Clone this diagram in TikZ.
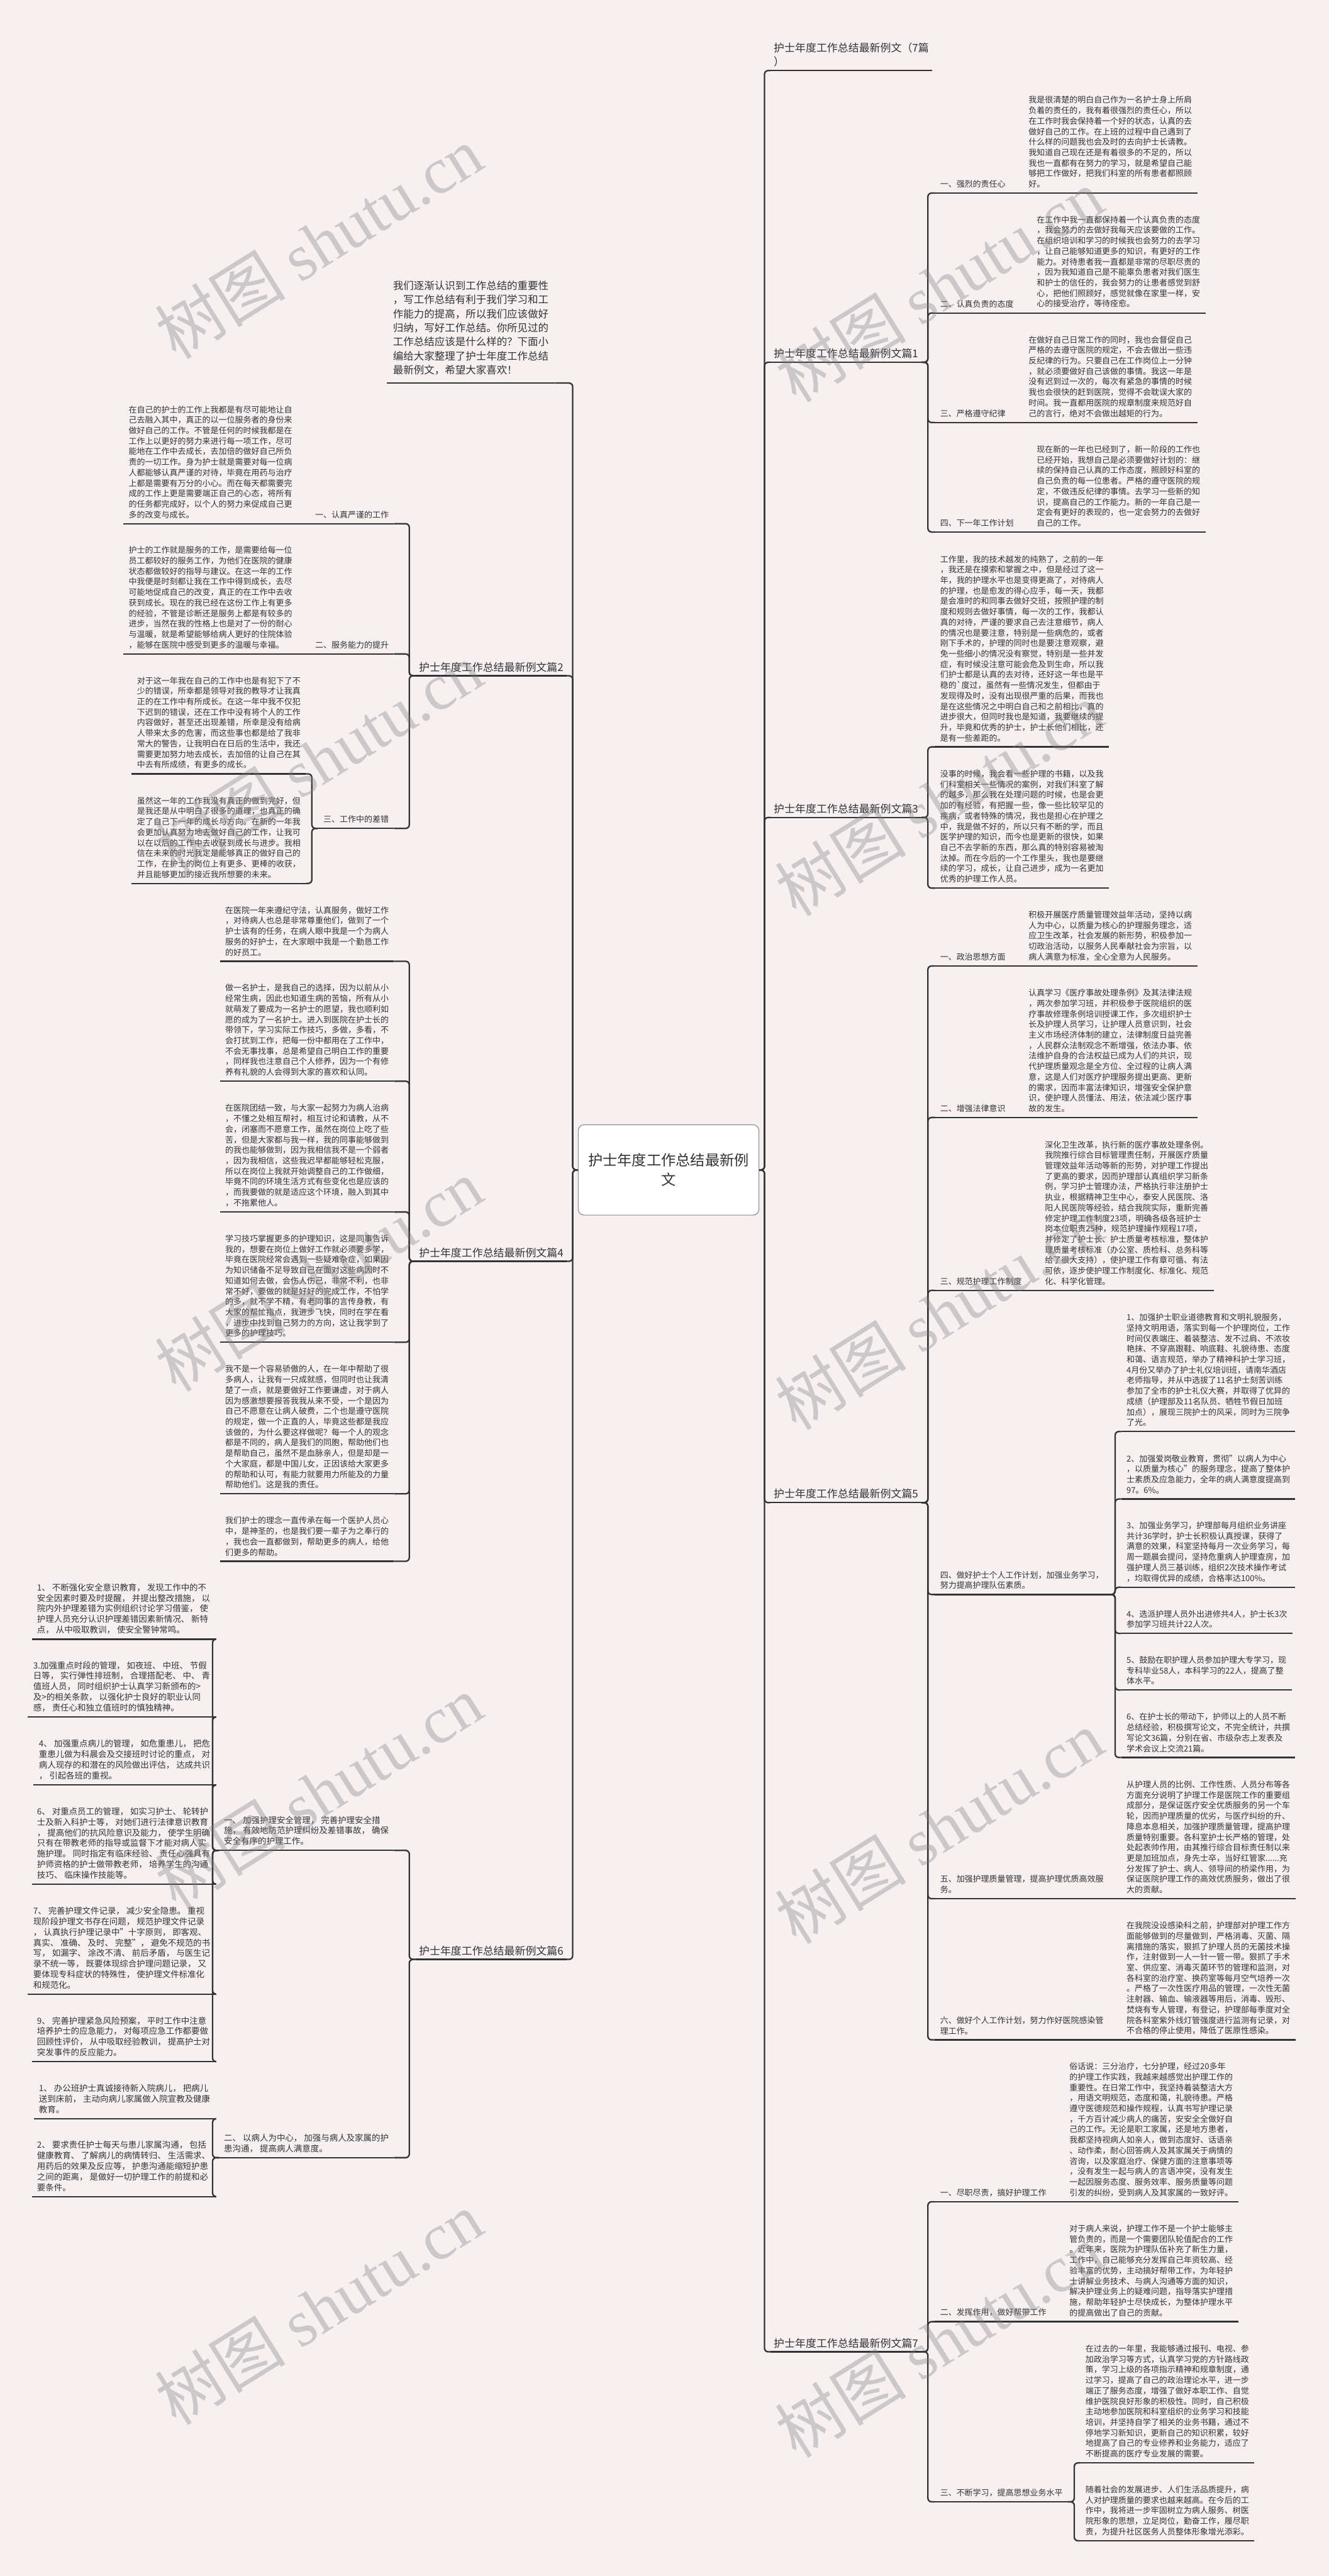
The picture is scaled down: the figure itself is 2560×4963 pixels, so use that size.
\documentclass[tikz,border=0pt]{standalone}
\usepackage{fontspec}
\setmainfont{Noto Sans CJK SC}
\newfontfamily\cjkfont{Noto Sans CJK SC}
\newfontfamily\wmfont{Liberation Serif}
\usetikzlibrary{positioning}
\definecolor{bgc}{RGB}{246,240,241}
\definecolor{ink}{RGB}{51,51,51}
\tikzset{
  uline/.style={append after command={(\tikzlastnode.south west) edge[draw=ink,line width=2pt] (\tikzlastnode.south east)}},
  txt/.style={uline, align=left, inner xsep=7pt, inner ysep=7pt, text=ink, font=\fontsize{11.2pt}{14.4pt}\selectfont},
  txtsm/.style={txt, font=\fontsize{11.6pt}{14.5pt}\selectfont},
  mainlab/.style={uline, align=left, inner xsep=4.5pt, inner ysep=5pt, text=ink, font=\fontsize{14.6pt}{19.2pt}\selectfont},
  introbox/.style={mainlab, inner xsep=8.5pt, inner ysep=11pt, font=\fontsize{14.2pt}{19.2pt}\selectfont},
  rootbox/.style={draw=black!45, line width=1pt, rounded corners=8pt, fill=white, align=center, text=ink,
    minimum width=8.7cm, minimum height=4.35cm, font=\fontsize{20pt}{27pt}\selectfont},
  link/.style={draw=ink, line width=2pt, rounded corners=5pt},
  wmark/.style={text=black!50, text opacity=0.35, rotate=32, anchor=south west, inner sep=0pt, font=\fontsize{90pt}{90pt}\selectfont},
}
\begin{document}
\begin{tikzpicture}[x=0.025cm,y=-0.025cm]
  \fill[bgc] (0,0) rectangle (2560,4963);
  \useasboundingbox (0,0) rectangle (2560,4963);

  %%%%% ROOT %%%%%
  \node[rootbox] (root) at (1288,2254) {护士年度工作总结最新例\\文};

  %%%%% MAIN BRANCHES %%%%%
  \node[mainlab, anchor=south west] (m0) at (1484,136) {护士年度工作总结最新例文（7篇\\）};
  \node[mainlab, anchor=south west] (m1) at (1484,698) {护士年度工作总结最新例文篇1};
  \node[mainlab, anchor=south west] (m3) at (1484,1575) {护士年度工作总结最新例文篇3};
  \node[mainlab, anchor=south west] (m5) at (1484,2895) {护士年度工作总结最新例文篇5};
  \node[mainlab, anchor=south west] (m7) at (1484,4531) {护士年度工作总结最新例文篇7};
  \node[introbox, anchor=south west] (m8) at (745,738) {我们逐渐认识到工作总结的重要性\\，写工作总结有利于我们学习和工\\作能力的提高，所以我们应该做好\\归纳，写好工作总结。你所见过的\\工作总结应该是什么样的？下面小\\编给大家整理了护士年度工作总结\\最新例文，希望大家喜欢！};
  \node[mainlab, anchor=south east] (m2) at (1092,1302) {护士年度工作总结最新例文篇2};
  \node[mainlab, anchor=south east] (m4) at (1092,2430) {护士年度工作总结最新例文篇4};
  \node[mainlab, anchor=south east] (m6) at (1092,3775) {护士年度工作总结最新例文篇6};

  \draw[link] (root.east) -- ++(10,0) |- (m0.south west);
  \draw[link] (root.east) -- ++(10,0) |- (m1.south west);
  \draw[link] (root.east) -- ++(10,0) |- (m3.south west);
  \draw[link] (root.east) -- ++(10,0) |- (m5.south west);
  \draw[link] (root.east) -- ++(10,0) |- (m7.south west);
  \draw[link] (root.west) -- ++(-10,0) |- (m8.south east);
  \draw[link] (root.west) -- ++(-10,0) |- (m2.south east);
  \draw[link] (root.west) -- ++(-10,0) |- (m4.south east);
  \draw[link] (root.west) -- ++(-10,0) |- (m6.south east);

  %%%%% 篇1 %%%%%
  \node[txt, anchor=south west] (l11) at (1801,372) {一、强烈的责任心};
  \node[txt, right=6mm of l11.south east, anchor=south west] (t11) {我是很清楚的明白自己作为一名护士身上所肩\\负着的责任的，我有着很强烈的责任心，所以\\在工作时我会保持着一个好的状态，认真的去\\做好自己的工作。在上班的过程中自己遇到了\\什么样的问题我也会及时的去向护士长请教。\\我知道自己现在还是有着很多的不足的，所以\\我也一直都有在努力的学习，就是希望自己能\\够把工作做好，把我们科室的所有患者都照顾\\好。};
  \node[txt, anchor=south west] (l12) at (1801,603) {二、认真负责的态度};
  \node[txt, right=6mm of l12.south east, anchor=south west] (t12) {在工作中我一直都保持着一个认真负责的态度\\，我会努力的去做好我每天应该要做的工作。\\在组织培训和学习的时候我也会努力的去学习\\，让自己能够知道更多的知识，有更好的工作\\能力。对待患者我一直都是非常的尽职尽责的\\，因为我知道自己是不能辜负患者对我们医生\\和护士的信任的，我会努力的让患者感觉到舒\\心，把他们照顾好，感觉就像在家里一样，安\\心的接受治疗，等待痊愈。};
  \node[txt, anchor=south west] (l13) at (1801,814) {三、严格遵守纪律};
  \node[txt, right=6mm of l13.south east, anchor=south west] (t13) {在做好自己日常工作的同时，我也会督促自己\\严格的去遵守医院的规定，不会去做出一些违\\反纪律的行为。只要自己在工作岗位上一分钟\\，就必须要做好自己该做的事情。我这一年是\\没有迟到过一次的，每次有紧急的事情的时候\\我也会很快的赶到医院，觉得不会耽误大家的\\时间。我一直都用医院的规章制度来规范好自\\己的言行，绝对不会做出越矩的行为。};
  \node[txt, anchor=south west] (l14) at (1801,1025) {四、下一年工作计划};
  \node[txt, right=6mm of l14.south east, anchor=south west] (t14) {现在新的一年也已经到了，新一阶段的工作也\\已经开始，我想自己是必须要做好计划的：继\\续的保持自己认真的工作态度，照顾好科室的\\自己负责的每一位患者。严格的遵守医院的规\\定，不做违反纪律的事情。去学习一些新的知\\识，提高自己的工作能力。新的一年自己是一\\定会有更好的表现的，也一定会努力的去做好\\自己的工作。};
  \draw[link] (m1.south east) -- ++(12,0) |- (l11.south west);
  \draw[link] (m1.south east) -- ++(12,0) |- (l12.south west);
  \draw[link] (m1.south east) -- ++(12,0) |- (l13.south west);
  \draw[link] (m1.south east) -- ++(12,0) |- (l14.south west);
  \draw[link] (l11.south east) -- (t11.south west);
  \draw[link] (l12.south east) -- (t12.south west);
  \draw[link] (l13.south east) -- (t13.south west);
  \draw[link] (l14.south east) -- (t14.south west);

  %%%%% 篇3 %%%%%
  \node[txt, anchor=south west] (t31) at (1801,1439) {工作里，我的技术越发的纯熟了，之前的一年\\，我还是在摸索和掌握之中，但是经过了这一\\年，我的护理水平也是变得更高了，对待病人\\的护理，也是愈发的得心应手，每一天，我都\\是会准时的和同事去做好交班，按照护理的制\\度和规则去做好事情，每一次的工作，我都认\\真的对待，严谨的要求自己去注意细节，病人\\的情况也是要注意，特别是一些病危的，或者\\刚下手术的，护理的同时也是要注意观察，避\\免一些细小的情况没有察觉，特别是一些并发\\症，有时候没注意可能会危及到生命，所以我\\们护士都是认真的去对待，还好这一年也是平\\稳的\textasciigrave 度过，虽然有一些情况发生，但都由于\\发现得及时，没有出现很严重的后果，而我也\\是在这些情况之中明白自己和之前相比，真的\\进步很大，但同时我也是知道，我要继续的提\\升，毕竟和优秀的护士，护士长他们相比，还\\是有一些差距的。};
  \node[txt, anchor=south west] (t32) at (1801,1711) {没事的时候，我会看一些护理的书籍，以及我\\们科室相关一些情况的案例，对我们科室了解\\的越多，那么我在处理问题的时候，也是会更\\加的有经验，有把握一些，像一些比较罕见的\\疾病，或者特殊的情况，我也是担心在护理之\\中，我是做不好的，所以只有不断的学，而且\\医学护理的知识，而今也是更新的很快，如果\\自己不去学新的东西，那么真的特别容易被淘\\汰掉。而在今后的一个工作里头，我也是要继\\续的学习，成长，让自己进步，成为一名更加\\优秀的护理工作人员。};
  \draw[link] (m3.south east) -- ++(12,0) |- (t31.south west);
  \draw[link] (m3.south east) -- ++(12,0) |- (t32.south west);

  %%%%% 篇5 %%%%%
  \node[txt, anchor=south west] (l51) at (1801,1861) {一、政治思想方面};
  \node[txt, right=6mm of l51.south east, anchor=south west] (t51) {积极开展医疗质量管理效益年活动，坚持以病\\人为中心，以质量为核心的护理服务理念，适\\应卫生改革，社会发展的新形势，积极参加一\\切政治活动，以服务人民奉献社会为宗旨，以\\病人满意为标准，全心全意为人民服务。};
  \node[txt, anchor=south west] (l52) at (1801,2153) {二、增强法律意识};
  \node[txt, right=6mm of l52.south east, anchor=south west] (t52) {认真学习《医疗事故处理条例》及其法律法规\\，两次参加学习班，并积极参于医院组织的医\\疗事故修理条例培训授课工作，多次组织护士\\长及护理人员学习，让护理人员意识到，社会\\主义市场经济体制的建立，法律制度日益完善\\，人民群众法制观念不断增强，依法办事、依\\法维护自身的合法权益已成为人们的共识，现\\代护理质量观念是全方位、全过程的让病人满\\意，这是人们对医疗护理服务提出更高、更新\\的需求，因而丰富法律知识，增强安全保护意\\识，使护理人员懂法、用法，依法减少医疗事\\故的发生。};
  \node[txt, anchor=south west] (l53) at (1801,2486) {三、规范护理工作制度};
  \node[txt, right=6mm of l53.south east, anchor=south west] (t53) {深化卫生改革，执行新的医疗事故处理条例。\\我院推行综合目标管理责任制，开展医疗质量\\管理效益年活动等新的形势，对护理工作提出\\了更高的要求，因而护理部认真组织学习新条\\例，学习护士管理办法，严格执行非注册护士\\执业，根据精神卫生中心，泰安人民医院、洛\\阳人民医院等经验，结合我院实际，重新完善\\修定护理工作制度23项，明确各级各班护士\\岗本位职责25种，规范护理操作规程17项，\\并修定了护士长、护士质量考核标准，整体护\\理质量考核标准（办公室、质检科、总务科等\\给了很大支持），使护理工作有章可循、有法\\可依，逐步使护理工作制度化、标准化、规范\\化、科学化管理。};
  \node[txt, anchor=south west] (l54) at (1801,3072) {四、做好护士个人工作计划，加强业务学习，\\努力提高护理队伍素质。};
  \node[txt, anchor=south west] (t541) at (2160,2758) {1、加强护士职业道德教育和文明礼貌服务，\\坚持文明用语，落实到每一个护理岗位，工作\\时间仪表端庄、着装整洁、发不过肩、不浓妆\\艳抹、不穿高跟鞋、响底鞋、礼貌待患、态度\\和蔼、语言规范，举办了精神科护士学习班，\\4月份又举办了护士礼仪培训班，请南华酒店\\老师指导，并从中选拔了11名护士刻苦训练\\参加了全市的护士礼仪大赛，并取得了优异的\\成绩（护理部及11名队员、牺牲节假日加班\\加点），展现三院护士的风采，同时为三院争\\了光。};
  \node[txt, anchor=south west] (t542) at (2160,2888) {2、加强爱岗敬业教育，贯彻"以病人为中心\\，以质量为核心"的服务理念，提高了整体护\\士素质及应急能力，全年的病人满意度提高到\\97。6\%。};
  \node[txt, anchor=south west] (t543) at (2160,3058) {3、加强业务学习，护理部每月组织业务讲座\\共计36学时，护士长积极认真授课，获得了\\满意的效果，科室坚持每月一次业务学习，每\\周一题晨会提问，坚持危重病人护理查房，加\\强护理人员三基训练，组织2次技术操作考试\\，均取得优异的成绩，合格率达100\%。};
  \node[txt, anchor=south west] (t544) at (2160,3147) {4、选派护理人员外出进修共4人，护士长3次\\参加学习班共计22人次。};
  \node[txt, anchor=south west] (t545) at (2160,3256) {5、鼓励在职护理人员参加护理大专学习，现\\专科毕业58人，本科学习的22人，提高了整\\体水平。};
  \node[txt, anchor=south west] (t546) at (2160,3386) {6、在护士长的带动下，护师以上的人员不断\\总结经验，积极撰写论文，不完全统计，共撰\\写论文36篇，分别在省、市级杂志上发表及\\学术会议上交流21篇。};
  \node[txt, anchor=south west] (l55) at (1801,3658) {五、加强护理质量管理，提高护理优质高效服\\务。};
  \node[txt, right=6mm of l55.south east, anchor=south west] (t55) {从护理人员的比例、工作性质、人员分布等各\\方面充分说明了护理工作是医院工作的重要组\\成部分，是保证医疗安全优质服务的另一个车\\轮，因而护理质量的优劣，与医疗纠纷的升、\\降息本息相关，加强护理质量管理，提高护理\\质量特别重要。各科室护士长严格的管理，处\\处起表帅作用，由其推行综合目标责任制以来\\更是加班加点，身先士卒，当好红管家......充\\分发挥了护士、病人、领导间的桥梁作用，为\\保证医院护理工作的高效优质服务，做出了很\\大的贡献。};
  \node[txt, anchor=south west] (l56) at (1801,3930) {六、做好个人工作计划，努力作好医院感染管\\理工作。};
  \node[txt, right=6mm of l56.south east, anchor=south west] (t56) {在我院没设感染科之前，护理部对护理工作方\\面能够做到的尽量做到，严格消毒、灭菌、隔\\离措施的落实，狠抓了护理人员的无菌技术操\\作，注射做到一人一针一管一带。狠抓了手术\\室、供应室、消毒灭菌环节的管理和监测，对\\各科室的治疗室、换药室等每月空气培养一次\\。严格了一次性医疗用品的管理，一次性无菌\\注射器、输血、输液器等用后，消毒、毁形、\\焚烧有专人管理，有登记，护理部每季度对全\\院各科室紫外线灯管强度进行监测有记录，对\\不合格的停止使用，降低了医原性感染。};
  \draw[link] (m5.south east) -- ++(12,0) |- (l51.south west);
  \draw[link] (m5.south east) -- ++(12,0) |- (l52.south west);
  \draw[link] (m5.south east) -- ++(12,0) |- (l53.south west);
  \draw[link] (m5.south east) -- ++(12,0) |- (l54.south west);
  \draw[link] (m5.south east) -- ++(12,0) |- (l55.south west);
  \draw[link] (m5.south east) -- ++(12,0) |- (l56.south west);
  \draw[link] (l51.south east) -- (t51.south west);
  \draw[link] (l52.south east) -- (t52.south west);
  \draw[link] (l53.south east) -- (t53.south west);
  \draw[link] (l54.south east) -- ++(12,0) |- (t541.south west);
  \draw[link] (l54.south east) -- ++(12,0) |- (t542.south west);
  \draw[link] (l54.south east) -- ++(12,0) |- (t543.south west);
  \draw[link] (l54.south east) -- ++(12,0) |- (t544.south west);
  \draw[link] (l54.south east) -- ++(12,0) |- (t545.south west);
  \draw[link] (l54.south east) -- ++(12,0) |- (t546.south west);
  \draw[link] (l55.south east) -- (t55.south west);
  \draw[link] (l56.south east) -- (t56.south west);

  %%%%% 篇7 %%%%%
  \node[txt, anchor=south west] (l71) at (1801,4242) {一、尽职尽责，搞好护理工作};
  \node[txt, right=6mm of l71.south east, anchor=south west] (t71) {俗话说：三分治疗，七分护理，经过20多年\\的护理工作实践，我越来越感觉出护理工作的\\重要性。在日常工作中，我坚持着装整洁大方\\，用语文明规范，态度和蔼，礼貌待患。严格\\遵守医德规范和操作规程，认真书写护理记录\\，千方百计减少病人的痛苦，安安全全做好自\\己的工作。无论是职工家属，还是地方患者，\\我都坚持视病人如亲人，做到态度好、话语亲\\、动作柔，耐心回答病人及其家属关于病情的\\咨询，以及家庭治疗、保健方面的注意事项等\\，没有发生一起与病人的言语冲突，没有发生\\一起因服务态度、服务效率、服务质量等问题\\引发的纠纷，受到病人及其家属的一致好评。};
  \node[txt, anchor=south west] (l72) at (1801,4473) {二、发挥作用，做好帮带工作};
  \node[txt, right=6mm of l72.south east, anchor=south west] (t72) {对于病人来说，护理工作不是一个护士能够主\\管负责的，而是一个需要团队轮值配合的工作\\。近年来，医院为护理队伍补充了新生力量，\\工作中，自己能够充分发挥自己年资较高、经\\验丰富的优势，主动搞好帮带工作，为年轻护\\士讲解业务技术、与病人沟通等方面的知识，\\解决护理业务上的疑难问题，指导落实护理措\\施，帮助年轻护士尽快成长，为整体护理水平\\的提高做出了自己的贡献。};
  \node[txt, anchor=south west] (l73) at (1801,4820) {三、不断学习，提高思想业务水平};
  \node[txt, anchor=south west] (t731) at (2081,4745) {在过去的一年里，我能够通过报刊、电视、参\\加政治学习等方式，认真学习党的方针路线政\\策，学习上级的各项指示精神和规章制度，通\\过学习，提高了自己的政治理论水平，进一步\\端正了服务态度，增强了做好本职工作、自觉\\维护医院良好形象的积极性。同时，自己积极\\主动地参加医院和科室组织的业务学习和技能\\培训，并坚持自学了相关的业务书籍，通过不\\停地学习新知识，更新自己的知识积累，较好\\地提高了自己的专业修养和业务能力，适应了\\不断提高的医疗专业发展的需要。};
  \node[txt, anchor=south west] (t732) at (2081,4895) {随着社会的发展进步、人们生活品质提升，病\\人对护理质量的要求也越来越高。在今后的工\\作中，我将进一步牢固树立为病人服务、树医\\院形象的思想，立足岗位，勤奋工作，履尽职\\责，为提升社区医务人员整体形象增光添彩。};
  \draw[link] (m7.south east) -- ++(12,0) |- (l71.south west);
  \draw[link] (m7.south east) -- ++(12,0) |- (l72.south west);
  \draw[link] (m7.south east) -- ++(12,0) |- (l73.south west);
  \draw[link] (l71.south east) -- (t71.south west);
  \draw[link] (l72.south east) -- (t72.south west);
  \draw[link] (l73.south east) -- ++(12,0) |- (t731.south west);
  \draw[link] (l73.south east) -- ++(12,0) |- (t732.south west);

  %%%%% 篇2 %%%%%
  \node[txt, anchor=south east] (l21) at (759,1009) {一、认真严谨的工作};
  \node[txt, left=6mm of l21.south west, anchor=south east] (t21) {在自己的护士的工作上我都是有尽可能地让自\\己去融入其中，真正的以一位服务者的身份来\\做好自己的工作。不管是任何的时候我都是在\\工作上以更好的努力来进行每一项工作，尽可\\能地在工作中去成长，去加倍的做好自己所负\\责的一切工作。身为护士就是需要对每一位病\\人都能够认真严谨的对待，毕竟在用药与治疗\\上都是需要有万分的小心。而在每天都需要完\\成的工作上更是需要端正自己的心态，将所有\\的任务都完成好，以个人的努力来促成自己更\\多的改变与成长。};
  \node[txt, anchor=south east] (l22) at (759,1260) {二、服务能力的提升};
  \node[txt, left=6mm of l22.south west, anchor=south east] (t22) {护士的工作就是服务的工作，是需要给每一位\\员工都较好的服务工作，为他们在医院的健康\\状态都做较好的指导与建议。在这一年的工作\\中我便是时刻都让我在工作中得到成长，去尽\\可能地促成自己的改变，真正的在工作中去收\\获到成长。现在的我已经在这份工作上有更多\\的经验，不管是诊断还是服务上都是有较多的\\进步，当然在我的性格上也是对了一份的耐心\\与温暖，就是希望能够给病人更好的住院体验\\，能够在医院中感受到更多的温暖与幸福。};
  \node[txt, anchor=south east] (l23) at (759,1596) {三、工作中的差错};
  \node[txt, anchor=south east] (t231) at (589,1491) {对于这一年我在自己的工作中也是有犯下了不\\少的错误，所幸都是领导对我的教导才让我真\\正的在工作中有所成长。在这一年中我不仅犯\\下迟到的错误，还在工作中没有将个人的工作\\内容做好，甚至还出现差错，所幸是没有给病\\人带来太多的危害，而这些事也都是给了我非\\常大的警告，让我明白在日后的生活中，我还\\需要更加努力地去成长，去加倍的让自己在其\\中去有所成绩，有更多的成长。};
  \node[txt, anchor=south east] (t232) at (589,1702) {虽然这一年的工作我没有真正的做到完好，但\\是我还是从中明白了很多的道理，也真正的确\\定了自己下一年的成长与方向。在新的一年我\\会更加认真努力地去做好自己的工作，让我可\\以在以后的工作中去收获到成长与进步。我相\\信在未来的时光我定是能够真正的做好自己的\\工作，在护士的岗位上有更多、更棒的收获，\\并且能够更加的接近我所想要的未来。};
  \draw[link] (m2.south west) -- ++(-12,0) |- (l21.south east);
  \draw[link] (m2.south west) -- ++(-12,0) |- (l22.south east);
  \draw[link] (m2.south west) -- ++(-12,0) |- (l23.south east);
  \draw[link] (l21.south west) -- (t21.south east);
  \draw[link] (l22.south west) -- (t22.south east);
  \draw[link] (l23.south west) -- ++(-12,0) |- (t231.south east);
  \draw[link] (l23.south west) -- ++(-12,0) |- (t232.south east);

  %%%%% 篇4 %%%%%
  \node[txt, anchor=south east] (t41) at (759,1852) {在医院一年来遵纪守法，认真服务，做好工作\\，对待病人也总是非常尊重他们，做到了一个\\护士该有的任务，在病人眼中我是一个为病人\\服务的好护士，在大家眼中我是一个勤恳工作\\的好员工。};
  \node[txt, anchor=south east] (t42) at (759,2083) {做一名护士，是我自己的选择，因为以前从小\\经常生病，因此也知道生病的苦恼，所有从小\\就萌发了要成为一名护士的愿望，我也顺利如\\愿的成为了一名护士。进入到医院在护士长的\\带领下，学习实际工作技巧，多做，多看，不\\会打扰到工作，把每一份中都用在了工作中，\\不会无事找事，总是希望自己明白工作的重要\\，同样我也注意自己个人修养，因为一个有修\\养有礼貌的人会得到大家的喜欢和认同。};
  \node[txt, anchor=south east] (t43) at (759,2335) {在医院团结一致，与大家一起努力为病人治病\\，不懂之处相互帮衬，相互讨论和请教，从不\\会，闭塞而不愿意工作，虽然在岗位上吃了些\\苦，但是大家都与我一样，我的同事能够做到\\的我也能够做到，因为我相信我不是一个弱者\\，因为我相信，这些我迟早都能够轻松克服，\\所以在岗位上我就开始调整自己的工作做细，\\毕竟不同的环境生活方式有些变化也是应该的\\，而我要做的就是适应这个环境，融入到其中\\，不拖累他人。};
  \node[txt, anchor=south east] (t44) at (759,2586) {学习技巧掌握更多的护理知识，这是同事告诉\\我的，想要在岗位上做好工作就必须要多学，\\毕竟在医院经常会遇到一些疑难杂症，如果因\\为知识储备不足导致自己在面对这些病因时不\\知道如何去做，会伤人伤己，非常不利，也非\\常不好，要做的就是好好的完成工作，不怕学\\的多，就不学不精，有老同事的言传身教，有\\大家的帮忙指点，我进步飞快，同时在学在看\\，进步中找到自己努力的方向，这让我学到了\\更多的护理技巧。};
  \node[txt, anchor=south east] (t45) at (759,2878) {我不是一个容易骄傲的人，在一年中帮助了很\\多病人，让我有一只成就感，但同时也让我清\\楚了一点，就是要做好工作要谦虚，对于病人\\因为感激想要报答我我从来不受，一个是因为\\自己不愿意在让病人破费，二个也是遵守医院\\的规定，做一个正直的人，毕竟这些都是我应\\该做的，为什么要这样做呢？每一个人的观念\\都是不同的，病人是我们的同胞，帮助他们也\\是帮助自己，虽然不是血脉亲人，但是却是一\\个大家庭，都是中国儿女，正因该给大家更多\\的帮助和认可，有能力就要用力所能及的力量\\帮助他们。这是我的责任。};
  \node[txt, anchor=south east] (t46) at (759,3008) {我们护士的理念一直传承在每一个医护人员心\\中，是神圣的，也是我们要一辈子为之奉行的\\，我也会一直都做到，帮助更多的病人，给他\\们更多的帮助。};
  \draw[link] (m4.south west) -- ++(-12,0) |- (t41.south east);
  \draw[link] (m4.south west) -- ++(-12,0) |- (t42.south east);
  \draw[link] (m4.south west) -- ++(-12,0) |- (t43.south east);
  \draw[link] (m4.south west) -- ++(-12,0) |- (t44.south east);
  \draw[link] (m4.south west) -- ++(-12,0) |- (t45.south east);
  \draw[link] (m4.south west) -- ++(-12,0) |- (t46.south east);

  %%%%% 篇6 %%%%%
  \node[txtsm, anchor=south east] (l61) at (759,3565) {一、 加强护理安全管理， 完善护理安全措\\施， 有效地防范护理纠纷及差错事故， 确保\\安全有序的护理工作。};
  \node[txtsm, anchor=south east] (l62) at (759,4157) {二、 以病人为中心， 加强与病人及家属的护\\患沟通， 提高病人满意度。};
  \node[txtsm, anchor=south east] (t611) at (415,3158) {1、 不断强化安全意识教育， 发现工作中的不\\安全因素时要及时提醒， 并提出整改措施， 以\\院内外护理差错为实例组织讨论学习借鉴， 使\\护理人员充分认识护理差错因素新情况、 新特\\点， 从中吸取教训， 使安全警钟常鸣。};
  \node[txtsm, anchor=south east] (t612) at (415,3308) {3.加强重点时段的管理， 如夜班、 中班、 节假\\日等， 实行弹性排班制， 合理搭配老、 中、 青\\值班人员， 同时组织护士认真学习新颁布的>\\及>的相关条款， 以强化护士良好的职业认同\\感， 责任心和独立值班时的慎独精神。};
  \node[txtsm, anchor=south east] (t613) at (415,3439) {4、 加强重点病儿的管理， 如危重患儿， 把危\\重患儿做为科晨会及交接班时讨论的重点， 对\\病人现存的和潜在的风险做出评估， 达成共识\\， 引起各班的重视。};
  \node[txtsm, anchor=south east] (t614) at (415,3630) {6、 对重点员工的管理， 如实习护士、 轮转护\\士及新入科护士等， 对她们进行法律意识教育\\， 提高他们的抗风险意识及能力， 使学生明确\\只有在带教老师的指导或监督下才能对病人实\\施护理。 同时指定有临床经验、 责任心强具有\\护师资格的护士做带教老师， 培养学生的沟通\\技巧、 临床操作技能等。};
  \node[txtsm, anchor=south east] (t615) at (415,3842) {7、 完善护理文件记录， 减少安全隐患。 重视\\现阶段护理文书存在问题， 规范护理文件记录\\， 认真执行护理记录中"十字原则， 即客观、\\真实、 准确、 及时、 完整"， 避免不规范的书\\写， 如漏字、 涂改不清、 前后矛盾， 与医生记\\录不统一等， 既要体现综合护理问题记录， 又\\要体现专科症状的特殊性， 使护理文件标准化\\和规范化。};
  \node[txtsm, anchor=south east] (t616) at (415,3972) {9、 完善护理紧急风险预案， 平时工作中注意\\培养护士的应急能力， 对每项应急工作都要做\\回顾性评价， 从中吸取经验教训， 提高护士对\\突发事件的反应能力。};
  \node[txtsm, anchor=south east] (t621) at (415,4082) {1、 办公班护士真诚接待新入院病儿， 把病儿\\送到床前， 主动向病儿家属做入院宣教及健康\\教育。};
  \node[txtsm, anchor=south east] (t622) at (415,4232) {2、 要求责任护士每天与患儿家属沟通， 包括\\健康教育、 了解病儿的病情转归、 生活需求、\\用药后的效果及反应等， 护患沟通能缩短护患\\之间的距离， 是做好一切护理工作的前提和必\\要条件。};
  \draw[link] (m6.south west) -- ++(-12,0) |- (l61.south east);
  \draw[link] (m6.south west) -- ++(-12,0) |- (l62.south east);
  \draw[link] (l61.south west) -- ++(-12,0) |- (t611.south east);
  \draw[link] (l61.south west) -- ++(-12,0) |- (t612.south east);
  \draw[link] (l61.south west) -- ++(-12,0) |- (t613.south east);
  \draw[link] (l61.south west) -- ++(-12,0) |- (t614.south east);
  \draw[link] (l61.south west) -- ++(-12,0) |- (t615.south east);
  \draw[link] (l61.south west) -- ++(-12,0) |- (t616.south east);
  \draw[link] (l62.south west) -- ++(-12,0) |- (t621.south east);
  \draw[link] (l62.south west) -- ++(-12,0) |- (t622.south east);

  %%%%% WATERMARK %%%%%
  \node[wmark] (w1) at (345,704) {\cjkfont 树图 \wmfont shutu.cn};
  \node[wmark] (w2) at (345,1699) {\cjkfont 树图 \wmfont shutu.cn};
  \node[wmark] (w3) at (345,2694) {\cjkfont 树图 \wmfont shutu.cn};
  \node[wmark] (w4) at (345,3689) {\cjkfont 树图 \wmfont shutu.cn};
  \node[wmark] (w5) at (345,4684) {\cjkfont 树图 \wmfont shutu.cn};
  \node[wmark] (w6) at (1540,787) {\cjkfont 树图 \wmfont shutu.cn};
  \node[wmark] (w7) at (1540,1777) {\cjkfont 树图 \wmfont shutu.cn};
  \node[wmark] (w8) at (1540,2767) {\cjkfont 树图 \wmfont shutu.cn};
  \node[wmark] (w9) at (1540,3757) {\cjkfont 树图 \wmfont shutu.cn};
  \node[wmark] (w10) at (1540,4747) {\cjkfont 树图 \wmfont shutu.cn};
\end{tikzpicture}
\end{document}
